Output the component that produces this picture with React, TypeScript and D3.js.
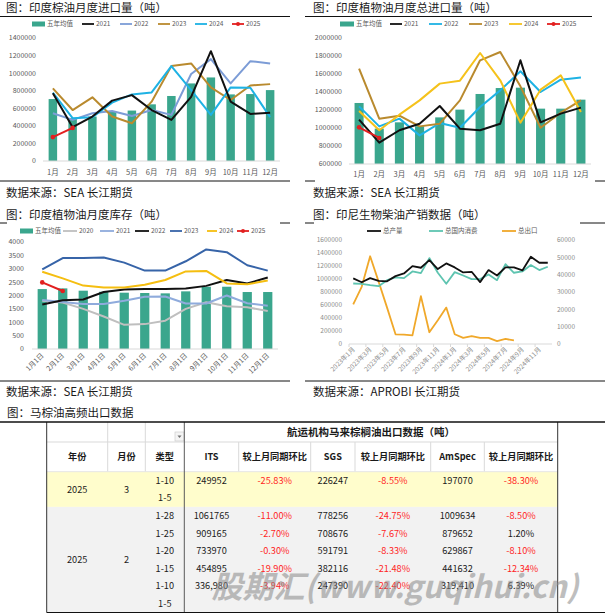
import React from 'react';
import * as d3 from 'd3';

const FONT = '"Noto Sans CJK SC", "Noto Sans", sans-serif';

// ---------- shared categories ----------
const months = ['1月', '2月', '3月', '4月', '5月', '6月', '7月', '8月', '9月', '10月', '11月', '12月'];
const monthDays = ['1月1日', '2月1日', '3月1日', '4月1日', '5月1日', '6月1日', '7月1日', '8月1日', '9月1日', '10月1日', '11月1日', '12月1日'];

// ---------- chart 1: 印度棕油月度进口量 ----------
const palmTicks = [0, 200000, 400000, 600000, 800000, 1000000, 1200000, 1400000];
const palmAvg = [705000, 487000, 506000, 566000, 574000, 645000, 740000, 883000, 951000, 758000, 762000, 807000];
const palm2021 = [770000, 385000, 506000, 687000, 750000, 580000, 468000, 730000, 1250000, 675000, 536000, 550000];
const palm2022 = [543000, 468000, 543000, 570000, 513000, 580000, 525000, 990000, 1160000, 883000, 1136000, 1110000];
const palm2023 = [826000, 580000, 725000, 506000, 430000, 675000, 1080000, 1110000, 838000, 694000, 860000, 875000];
const palm2024 = [777000, 487000, 498000, 664000, 758000, 780000, 1080000, 807000, 525000, 838000, 834000, 500000];
const palm2025 = [272000, 377000];

// ---------- chart 2: 印度植物油月度总进口量 ----------
const vegTicks = [600000, 800000, 1000000, 1200000, 1400000, 1600000, 1800000, 2000000];
const vegAvg = [1278000, 993000, 1063000, 1020000, 1118000, 1204000, 1378000, 1444000, 1448000, 1215000, 1215000, 1315000];
const veg2021 = [1093000, 837000, 975000, 1048000, 1244000, 993000, 975000, 1048000, 1752000, 1063000, 1160000, 1226000];
const veg2022 = [1240000, 1018000, 1104000, 918000, 1055000, 1003000, 1233000, 1418000, 1630000, 1400000, 1537000, 1560000];
const veg2023 = [1660000, 1104000, 1137000, 1018000, 1048000, 1307000, 1752000, 1844000, 1463000, 1003000, 1170000, 1307000];
const veg2024 = [1189000, 975000, 1148000, 1307000, 1493000, 1526000, 1833000, 1530000, 1059000, 1426000, 1585000, 1178000];
const veg2025 = [1007000, 889000];

// ---------- chart 3: 印度植物油月度库存 ----------
const stockTicks = [0, 500, 1000, 1500, 2000, 2500, 3000, 3500, 4000];
const stockAvg = [2240, 2266, 2180, 2140, 2105, 2093, 2080, 2155, 2328, 2328, 2130, 2130];
const stock2020 = [1808, 1740, 1500, 1213, 904, 930, 1060, 1500, 1750, 1600, 1560, 1420];
const stock2021 = [1830, 1760, 1680, 1680, 1800, 1950, 1960, 1700, 1700, 2000, 1710, 1620];
const stock2022 = [1660, 1820, 1850, 2130, 2220, 2240, 2240, 2260, 2360, 2580, 2450, 2670];
const stock2023 = [2980, 3400, 3400, 3420, 3230, 2930, 2930, 3280, 3720, 3620, 3130, 2930];
const stock2024 = [2890, 2640, 2370, 2300, 2300, 2400, 2580, 2900, 2920, 2450, 2420, 2560];
const stock2025 = [2490, 2170];

// ---------- chart 4: 印尼生物柴油产销数据 ----------
const bioMonths = [
  '2023年1月', '2023年2月', '2023年3月', '2023年4月', '2023年5月', '2023年6月',
  '2023年7月', '2023年8月', '2023年9月', '2023年10月', '2023年11月', '2023年12月',
  '2024年1月', '2024年2月', '2024年3月', '2024年4月', '2024年5月', '2024年6月',
  '2024年7月', '2024年8月', '2024年9月', '2024年10月', '2024年11月', '2024年12月',
];
const bioLeftTicks = [0, 200000, 400000, 600000, 800000, 1000000, 1200000, 1400000, 1600000];
const bioRightTicks = [0, 10000, 20000, 30000, 40000, 50000, 60000];
const bioProduction = [1010000, 950000, 1013000, 972000, 965000, 1044000, 1085000, 1199000, 1173000, 1291000, 1152000, 1240000, 1178000, 1101000, 1111000, 952000, 1137000, 1054000, 1178000, 1178000, 1132000, 1343000, 1250000, 1250000];
const bioConsumption = [931000, 926000, 905000, 890000, 982000, 1024000, 1013000, 1116000, 1090000, 1322000, 1096000, 926000, 1106000, 1054000, 998000, 998000, 1070000, 982000, 1229000, 1096000, 1116000, 1214000, 1137000, 1188000];
const bioExport = [22800, 33000, 50600, 36000, 21000, 5600, 5400, 5000, 27600, 6800, 13700, 21000, 5600, 3500, 4600, 3500, 3500, 1700, 2900, 2100];

// ---------- table ----------
const tableTitle = '航运机构马来棕榈油出口数据（吨）';
const headerLabels = ['年份', '月份', '类型', 'ITS', '较上月同期环比', 'SGS', '较上月同期环比', 'AmSpec', '较上月同期环比'];
const marchYear = '2025';
const marchMonth = '3';
const marchTypes = ['1-10', '1-5'];
const marchValues = [
  ['249952', '-25.83%', '226247', '-8.55%', '197070', '-38.30%'],
  [],
];
const febYear = '2025';
const febMonth = '2';
const febTypes = ['1-28', '1-25', '1-20', '1-15', '1-10', '1-5'];
const febValues = [
  ['1061765', '-11.00%', '778256', '-24.75%', '1009634', '-8.50%'],
  ['909165', '-2.70%', '708676', '-7.67%', '879652', '1.20%'],
  ['733970', '-0.30%', '591791', '-8.33%', '629867', '-8.10%'],
  ['454895', '-19.90%', '382116', '-21.48%', '441632', '-12.34%'],
  ['336,980', '-3.94%', '247390', '-22.40%', '319,410', '6.39%'],
  [],
];

const TEAL = '#3AA68D';

type Series = { name: string; values: number[]; color: string; marker?: boolean };
type LegendItem = { label: string; kind: string; color: string; x: number; tx: number };

function Legend({ y, items }: { y: number; items: LegendItem[] }) {
  return (
    <g>
      {items.map((it) => (
        <g key={it.label}>
          {it.kind === 'bar' ? (
            <rect x={it.x} y={y - 2.5} width={it.tx - it.x - 2} height={5} fill={it.color} />
          ) : (
            <line x1={it.x} x2={it.tx - 2} y1={y} y2={y} stroke={it.color} strokeWidth={1.8} />
          )}
          {it.kind === 'marker' && <circle cx={(it.x + it.tx - 2) / 2} cy={y} r={2} fill={it.color} />}
          <text x={it.tx} y={y} dy="0.35em" fontSize={6.5} fill="#595959">{it.label}</text>
        </g>
      ))}
    </g>
  );
}

function ComboChart(props: {
  cats: string[]; bars: number[]; series: Series[]; left: number; right: number; top: number; bottom: number;
  yDomain: [number, number]; yTicks: number[]; yLabelX: number; xLabelY: number; rotate?: boolean; barRatio: number;
}) {
  const { cats, bars, series, left, right, top, bottom, yDomain, yTicks, yLabelX, xLabelY, rotate, barRatio } = props;
  const x = d3.scaleBand<string>().domain(cats).range([left, right]);
  const y = d3.scaleLinear().domain(yDomain).range([bottom, top]);
  const cx = (i: number) => (x(cats[i]) as number) + x.bandwidth() / 2;
  const bw = x.bandwidth() * barRatio;
  const line = d3.line<number>().x((_, i) => cx(i)).y((v) => y(v));
  return (
    <g>
      {yTicks.map((t) => (
        <text key={t} x={yLabelX} y={y(t)} dy="0.35em" textAnchor="end" fontSize={7} fill="#595959">{t}</text>
      ))}
      {bars.map((v, i) => (
        <rect key={i} x={cx(i) - bw / 2} y={y(v)} width={bw} height={y(yDomain[0]) - y(v)} fill={TEAL} />
      ))}
      <line x1={left} x2={right} y1={bottom} y2={bottom} stroke="#D9D9D9" strokeWidth={1} />
      {series.map((s) => (
        <g key={s.name}>
          <path d={line(s.values) || ''} fill="none" stroke={s.color} strokeWidth={2} strokeLinejoin="round" />
          {s.marker && s.values.map((v, i) => <circle key={i} cx={cx(i)} cy={y(v)} r={2.3} fill={s.color} />)}
        </g>
      ))}
      {cats.map((c, i) =>
        rotate ? (
          <text key={c} transform={`translate(${cx(i) + 2},${xLabelY}) rotate(-45)`} textAnchor="end" fontSize={7} fill="#595959">{c}</text>
        ) : (
          <text key={c} x={cx(i)} y={xLabelY} dy="0.35em" textAnchor="middle" fontSize={7.5} fill="#595959">{c}</text>
        )
      )}
    </g>
  );
}

function BioChart() {
  const left = 349, right = 552, top = 240, bottom = 344;
  const x = d3.scaleBand<string>().domain(bioMonths).range([left, right]);
  const yL = d3.scaleLinear().domain([0, 1600000]).range([bottom, top]);
  const yR = d3.scaleLinear().domain([0, 60000]).range([bottom, top]);
  const cx = (i: number) => (x(bioMonths[i]) as number) + x.bandwidth() / 2;
  const lineL = d3.line<number>().x((_, i) => cx(i)).y((v) => yL(v));
  const lineR = d3.line<number>().x((_, i) => cx(i)).y((v) => yR(v));
  const grey = '#8C8C8C';
  return (
    <g>
      {bioLeftTicks.map((t) => (
        <text key={t} x={342} y={yL(t)} dy="0.35em" textAnchor="end" fontSize={6.5} fill={grey}>{t}</text>
      ))}
      {bioRightTicks.map((t) => (
        <text key={t} x={557} y={yR(t)} dy="0.35em" textAnchor="start" fontSize={6.5} fill={grey}>{t}</text>
      ))}
      <line x1={left} x2={right} y1={bottom} y2={bottom} stroke="#D9D9D9" />
      {bioMonths.map((m, i) =>
        i % 2 === 0 ? <line key={m} x1={x(m) as number} x2={x(m) as number} y1={bottom} y2={bottom + 3} stroke="#D9D9D9" /> : null
      )}
      <path d={lineR(bioExport) || ''} fill="none" stroke="#F0A82A" strokeWidth={1.8} strokeLinejoin="round" />
      <path d={lineL(bioConsumption) || ''} fill="none" stroke="#5EC4B0" strokeWidth={1.8} strokeLinejoin="round" />
      <path d={lineL(bioProduction) || ''} fill="none" stroke="#111" strokeWidth={1.8} strokeLinejoin="round" />
      {bioMonths.map((m, i) =>
        i % 2 === 0 ? (
          <text key={m} transform={`translate(${cx(i) + 2},${bottom + 6}) rotate(-45)`} textAnchor="end" fontSize={6.5} fill={grey}>{m}</text>
        ) : null
      )}
      <Legend
        y={231}
        items={[
          { label: '总产量', kind: 'line', color: '#111', x: 367, tx: 383 },
          { label: '总国内消费', kind: 'line', color: '#5EC4B0', x: 429, tx: 445 },
          { label: '总出口', kind: 'line', color: '#F0A82A', x: 502, tx: 518 },
        ]}
      />
    </g>
  );
}

const colX = [46.7, 107.7, 145.3, 184.3, 238.7, 310.7, 355, 430.7, 484.3, 557.7];

function Table() {
  const top = 422, h1 = 442, h2 = 471.7, rowH = 17.6;
  const fs = 9.2;
  const mid = (i: number) => (colX[i] + colX[i + 1]) / 2;
  const yellowBottom = h2 + rowH * marchTypes.length;
  const greyBottom = yellowBottom + rowH * febTypes.length;
  const valColor = (v: string) => (v.startsWith('-') ? '#FF1F1F' : '#1A1A1A');
  const renderRows = (types: string[], values: string[][], start: number) =>
    types.map((t, r) => {
      const cy = start + rowH * r + rowH / 2;
      return (
        <g key={t + r}>
          <text x={mid(2)} y={cy} dy="0.35em" textAnchor="middle" fontSize={fs} fill="#1A1A1A">{t}</text>
          {values[r].map((v, k) => (
            <text key={k} x={mid(3 + k)} y={cy} dy="0.35em" textAnchor="middle" fontSize={fs} fill={k % 2 === 1 ? valColor(v) : '#1A1A1A'}>{v}</text>
          ))}
        </g>
      );
    });
  return (
    <g>
      <rect x={colX[0]} y={h2} width={colX[9] - colX[0]} height={yellowBottom - h2} fill="#FFFDCC" />
      <rect x={colX[0]} y={yellowBottom} width={colX[9] - colX[0]} height={greyBottom - yellowBottom} fill="#F2F2F2" />
      {/* header grid */}
      {[1, 2].map((i) => <line key={i} x1={colX[i]} x2={colX[i]} y1={top} y2={h2} stroke="#D9D9D9" />)}
      {[4, 5, 6, 7, 8].map((i) => <line key={i} x1={colX[i]} x2={colX[i]} y1={h1} y2={h2} stroke="#D9D9D9" />)}
      <line x1={colX[0]} x2={colX[9]} y1={h1} y2={h1} stroke="#D9D9D9" />
      <line x1={colX[0]} x2={colX[9]} y1={h2} y2={h2} stroke="#E6E6E6" />
      {/* filter button */}
      <rect x={175} y={432} width={9} height={9} fill="#F4F4F4" stroke="#C8C8C8" strokeWidth={0.6} />
      <path d="M177.5,435.5 L181.5,435.5 L179.5,438 Z" fill="#707070" />
      {/* borders */}
      <line x1={colX[3]} x2={colX[3]} y1={top} y2={greyBottom} stroke="#595959" strokeWidth={1} />
      <line x1={colX[0]} x2={colX[0]} y1={top} y2={greyBottom} stroke="#333" strokeWidth={1} />
      <line x1={colX[9]} x2={colX[9]} y1={top} y2={greyBottom} stroke="#333" strokeWidth={1} />
      <line x1={0} x2={605} y1={top} y2={top} stroke="#111" strokeWidth={1.6} />
      <line x1={colX[0]} x2={605} y1={greyBottom} y2={greyBottom} stroke="#111" strokeWidth={1.2} />
      {/* title */}
      <text x={(colX[3] + colX[9]) / 2} y={(top + h1) / 2} dy="0.35em" textAnchor="middle" fontSize={10.5} fontWeight="bold" fill="#1A1A1A">{tableTitle}</text>
      {headerLabels.map((l, i) => (
        <text key={i} x={mid(i)} y={(h1 + h2) / 2} dy="0.35em" textAnchor="middle" fontSize={fs} fontWeight="bold" fill="#1A1A1A">{l}</text>
      ))}
      <text x={mid(0)} y={(h2 + yellowBottom) / 2} dy="0.35em" textAnchor="middle" fontSize={fs} fill="#1A1A1A">{marchYear}</text>
      <text x={mid(1)} y={(h2 + yellowBottom) / 2} dy="0.35em" textAnchor="middle" fontSize={fs} fill="#1A1A1A">{marchMonth}</text>
      {renderRows(marchTypes, marchValues, h2)}
      <text x={mid(0)} y={(yellowBottom + greyBottom) / 2} dy="0.35em" textAnchor="middle" fontSize={fs} fill="#1A1A1A">{febYear}</text>
      <text x={mid(1)} y={(yellowBottom + greyBottom) / 2} dy="0.35em" textAnchor="middle" fontSize={fs} fill="#1A1A1A">{febMonth}</text>
      {renderRows(febTypes, febValues, yellowBottom)}
      <text x={395} y={598} textAnchor="middle" fontSize={31} fontWeight="bold" fontStyle="italic" fill="#8A8A8A" opacity={0.55}>股期汇(www.guqihui.cn)</text>
    </g>
  );
}

export default function App() {
  const t = { fontSize: 11.5, fill: '#1A1A1A' };
  return (
    <svg width={605} height={616} style={{ position: 'absolute', left: 0, top: 0, background: '#fff' }} fontFamily={FONT}>
      <rect width={605} height={616} fill="#fff" />
      {/* texts */}
      <text x={6} y={12} {...t}>图：印度棕油月度进口量（吨）</text>
      <text x={313} y={12} {...t}>图：印度植物油月度总进口量（吨）</text>
      <text x={6} y={197} {...t}>数据来源：SEA 长江期货</text>
      <text x={313} y={197} {...t}>数据来源：SEA 长江期货</text>
      <text x={6} y={219} {...t}>图：印度植物油月度库存（吨）</text>
      <text x={313} y={219} {...t}>图：印尼生物柴油产销数据（吨）</text>
      <text x={6} y={396} {...t}>数据来源：SEA 长江期货</text>
      <text x={313} y={396} {...t}>数据来源：APROBI 长江期货</text>
      <text x={7} y={416.5} {...t}>图：马棕油高频出口数据</text>
      {/* separator lines */}
      <line x1={0} x2={290} y1={16.5} y2={16.5} stroke="#111" />
      <line x1={305} x2={592} y1={16.5} y2={16.5} stroke="#111" />
      <line x1={0} x2={290} y1={181} y2={181} stroke="#111" />
      <line x1={305} x2={315} y1={181} y2={181} stroke="#111" />
      <line x1={595} x2={605} y1={181} y2={181} stroke="#111" />
      <line x1={0} x2={7} y1={223} y2={223} stroke="#111" />
      <line x1={280} x2={290} y1={223} y2={223} stroke="#111" />
      <line x1={305} x2={314} y1={223} y2={223} stroke="#111" />
      <line x1={580} x2={605} y1={223} y2={223} stroke="#111" />
      <line x1={0} x2={290} y1={381} y2={381} stroke="#111" />
      <line x1={305} x2={605} y1={381} y2={381} stroke="#111" />

      {/* chart 1 */}
      <Legend
        y={24}
        items={[
          { label: '五年均值', kind: 'bar', color: TEAL, x: 32, tx: 47 },
          { label: '2021', kind: 'line', color: '#111', x: 82, tx: 96 },
          { label: '2022', kind: 'line', color: '#7C9CD6', x: 120, tx: 134 },
          { label: '2023', kind: 'line', color: '#B98A2E', x: 158, tx: 172 },
          { label: '2024', kind: 'line', color: '#1EB2E4', x: 195, tx: 209 },
          { label: '2025', kind: 'marker', color: '#E21F1F', x: 232, tx: 246 },
        ]}
      />
      <ComboChart
        cats={months} bars={palmAvg} left={43} right={280} top={38} bottom={161}
        yDomain={[0, 1400000]} yTicks={palmTicks} yLabelX={36} xLabelY={172} barRatio={0.43}
        series={[
          { name: '2022', values: palm2022, color: '#7C9CD6' },
          { name: '2023', values: palm2023, color: '#B98A2E' },
          { name: '2024', values: palm2024, color: '#1EB2E4' },
          { name: '2021', values: palm2021, color: '#111' },
          { name: '2025', values: palm2025, color: '#E21F1F', marker: true },
        ]}
      />

      {/* chart 2 */}
      <Legend
        y={24}
        items={[
          { label: '五年均值', kind: 'bar', color: TEAL, x: 340, tx: 356 },
          { label: '2021', kind: 'line', color: '#111', x: 390, tx: 404 },
          { label: '2022', kind: 'line', color: '#1EB2E4', x: 429, tx: 444 },
          { label: '2023', kind: 'line', color: '#B98A2E', x: 469, tx: 484 },
          { label: '2024', kind: 'line', color: '#F5C21B', x: 509, tx: 524 },
          { label: '2025', kind: 'marker', color: '#E21F1F', x: 547, tx: 562 },
        ]}
      />
      <ComboChart
        cats={months} bars={vegAvg} left={349} right={591} top={38} bottom={164}
        yDomain={[600000, 2000000]} yTicks={vegTicks} yLabelX={342} xLabelY={174} barRatio={0.45}
        series={[
          { name: '2022', values: veg2022, color: '#1EB2E4' },
          { name: '2023', values: veg2023, color: '#B98A2E' },
          { name: '2024', values: veg2024, color: '#F5C21B' },
          { name: '2021', values: veg2021, color: '#111' },
          { name: '2025', values: veg2025, color: '#E21F1F', marker: true },
        ]}
      />

      {/* chart 3 */}
      <Legend
        y={231}
        items={[
          { label: '五年均值', kind: 'bar', color: TEAL, x: 20, tx: 35 },
          { label: '2020', kind: 'line', color: '#BFBFBF', x: 63, tx: 79 },
          { label: '2021', kind: 'line', color: '#8FABDC', x: 100, tx: 116 },
          { label: '2022', kind: 'line', color: '#111', x: 135, tx: 151 },
          { label: '2023', kind: 'line', color: '#3764A8', x: 170, tx: 184 },
          { label: '2024', kind: 'line', color: '#F5BE10', x: 207, tx: 219 },
          { label: '2025', kind: 'marker', color: '#E21F1F', x: 237, tx: 251 },
        ]}
      />
      <ComboChart
        cats={monthDays} bars={stockAvg} left={32} right={278} top={242} bottom={349}
        yDomain={[0, 4000]} yTicks={stockTicks} yLabelX={24} xLabelY={356} rotate barRatio={0.45}
        series={[
          { name: '2020', values: stock2020, color: '#BFBFBF' },
          { name: '2021', values: stock2021, color: '#8FABDC' },
          { name: '2022', values: stock2022, color: '#111' },
          { name: '2023', values: stock2023, color: '#3764A8' },
          { name: '2024', values: stock2024, color: '#F5BE10' },
          { name: '2025', values: stock2025, color: '#E21F1F', marker: true },
        ]}
      />

      {/* chart 4 */}
      <BioChart />

      <Table />
    </svg>
  );
}
